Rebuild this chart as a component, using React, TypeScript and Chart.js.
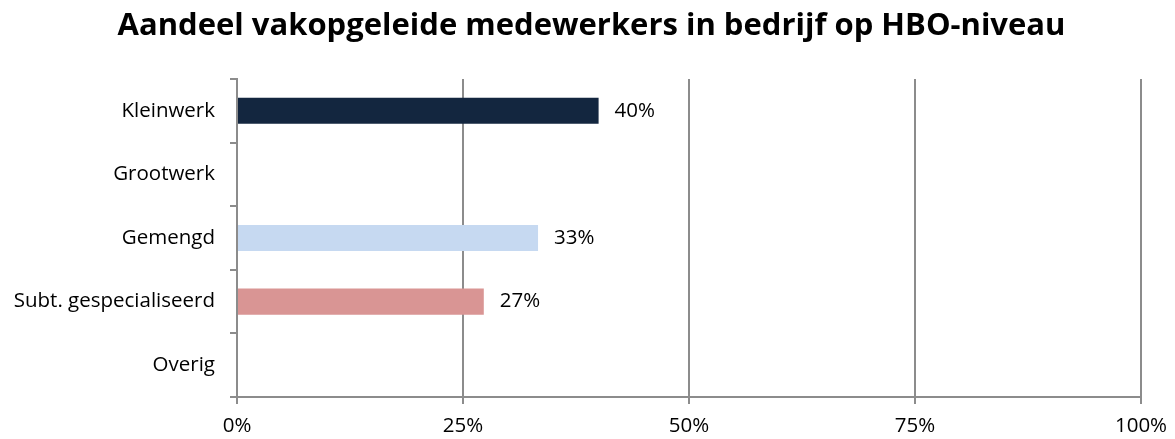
import React, { useEffect, useRef } from "react";
import { Chart, registerables } from "chart.js";

Chart.register(...registerables);

const titleText = "Aandeel vakopgeleide medewerkers in bedrijf op HBO-niveau";
const categories = ["Kleinwerk", "Grootwerk", "Gemengd", "Subt. gespecialiseerd", "Overig"];
const values: (number | null)[] = [40, null, 33.3, 27.3, null];
const barColors = ["#13263F", "#13263F", "#C6D9F1", "#D99594", "#13263F"];
const xTicks = [0, 25, 50, 75, 100];

const FONT = "'Open Sans', 'Noto Sans', sans-serif";

const dataLabels = {
  id: "dataLabels",
  afterDatasetsDraw(chart: any) {
    const ctx = chart.ctx;
    const meta = chart.getDatasetMeta(0);
    ctx.save();
    ctx.font = `20.5px ${FONT}`;
    ctx.fillStyle = "#000";
    ctx.textAlign = "left";
    ctx.textBaseline = "middle";
    meta.data.forEach((bar: any, i: number) => {
      const v = values[i];
      if (v == null) return;
      ctx.fillText(`${Math.round(v)}%`, bar.x + 16, bar.y);
    });
    ctx.restore();
  },
};

const centeredTitle = {
  id: "centeredTitle",
  afterDraw(chart: any) {
    const ctx = chart.ctx;
    ctx.save();
    ctx.font = `bold 31px ${FONT}`;
    ctx.fillStyle = "#000";
    ctx.textAlign = "center";
    ctx.textBaseline = "alphabetic";
    ctx.fillText(titleText, chart.width / 2 + 4, 35);
    ctx.restore();
  },
};

export default function App() {
  const ref = useRef<HTMLCanvasElement>(null);
  useEffect(() => {
    const chart = new Chart(ref.current!, {
      type: "bar",
      data: {
        labels: categories,
        datasets: [
          {
            data: values,
            backgroundColor: barColors,
            categoryPercentage: 0.41,
            barPercentage: 1,
          },
        ],
      },
      options: {
        indexAxis: "y",
        animation: false,
        responsive: false,
        maintainAspectRatio: false,
        layout: { padding: { left: 0, right: 34, top: 79, bottom: 0 } },
        plugins: {
          legend: { display: false },
          tooltip: { enabled: false },
          title: { display: false },
        },
        scales: {
          x: {
            min: 0,
            max: 100,
            afterBuildTicks(axis: any) {
              axis.ticks = xTicks.map((v) => ({ value: v }));
            },
            afterFit(axis: any) {
              axis.height = 42;
              axis.paddingLeft = 0;
              axis.paddingRight = 0;
            },
            ticks: {
              callback: (v: any) => `${v}%`,
              color: "#000",
              font: { family: FONT, size: 20.5 },
              padding: 10,
              maxRotation: 0,
            },
            grid: {
              color: "#8C8C8C",
              lineWidth: 2,
              tickLength: 7,
              drawTicks: true,
            },
            border: { color: "#8C8C8C", width: 2 },
          },
          y: {
            afterFit(axis: any) {
              axis.width = 237;
              axis.paddingTop = 0;
              axis.paddingBottom = 0;
            },
            ticks: {
              color: "#000",
              font: { family: FONT, size: 20.5 },
              padding: 15,
            },
            grid: {
              offset: true,
              drawOnChartArea: false,
              color: "#8C8C8C",
              lineWidth: 2,
              tickLength: 7,
            },
            border: { color: "#8C8C8C", width: 2 },
          },
        },
      },
      plugins: [dataLabels, centeredTitle],
    });
    return () => chart.destroy();
  }, []);
  return (
    <div style={{ position: "fixed", left: 0, top: 0, width: 1175, height: 439, background: "#fff" }}>
      <canvas ref={ref} width={1175} height={439} />
    </div>
  );
}
